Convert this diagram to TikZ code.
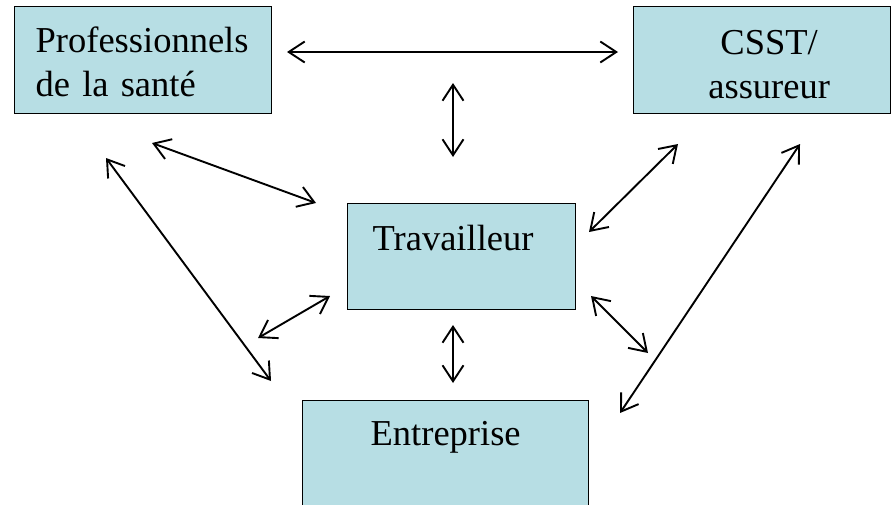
\documentclass[tikz,border=0pt]{standalone}
\usepackage{fontspec}
\setmainfont{Liberation Serif}
\usetikzlibrary{arrows.meta}
\definecolor{boxblue}{RGB}{183,222,228}
\tikzstyle{block} = [rectangle, draw=black, line width=1.3pt, fill=boxblue,
    inner sep=0pt, anchor=north west, font=\fontsize{36.5}{43.5}\selectfont]
\tikzstyle{line} = [draw, line width=1.9pt, <->,
    >={Straight Barb[length=16pt,width=21pt]}]

\begin{document}
\begin{tikzpicture}[x=1pt, y=-1pt]
    \useasboundingbox (0,0) rectangle (891,504);
    % Place nodes
    \node [block, inner xsep=21pt, text width=215pt, align=left,
        text height=46pt, text depth=61pt] (prof) at (14,6) {Professionnels\\de la santé};
    \node [block, text width=257pt, align=center,
        text height=48pt, text depth=59pt] (csst) at (633,6) {\hspace*{14pt}CSST/\\\hspace*{14pt}assureur};
    \node [block, inner xsep=25pt, text width=178pt, align=left,
        text height=47pt, text depth=59pt] (trav) at (347,203) {Travailleur};
    \node [block, text width=286pt, align=center,
        text height=45pt, text depth=70pt] (entr) at (302,400) {Entreprise};
    % Arrow ends
    \coordinate (profE) at (287,52);
    \coordinate (csstW) at (618,52);
    \coordinate (topN) at (453,83);
    \coordinate (topS) at (453,157);
    \coordinate (profS) at (152,143);
    \coordinate (travNW) at (316,203);
    \coordinate (profSW) at (106,158);
    \coordinate (entrNW) at (271,381);
    \coordinate (travW) at (330,296);
    \coordinate (entrW) at (258,338);
    \coordinate (travS) at (453,325);
    \coordinate (entrN) at (453,383);
    \coordinate (csstS) at (678,144);
    \coordinate (travNE) at (589,232);
    \coordinate (travSE) at (591,296);
    \coordinate (entrE) at (648,353);
    \coordinate (csstSE) at (800,144);
    \coordinate (entrNE) at (620,413);
    % Draw edges
    \path [line] (profE) -- (csstW);
    \path [line] (topN) -- (topS);
    \path [line] (profS) -- (travNW);
    \path [line] (profSW) -- (entrNW);
    \path [line] (travW) -- (entrW);
    \path [line] (travS) -- (entrN);
    \path [line] (csstS) -- (travNE);
    \path [line] (travSE) -- (entrE);
    \path [line] (csstSE) -- (entrNE);
\end{tikzpicture}
\end{document}
